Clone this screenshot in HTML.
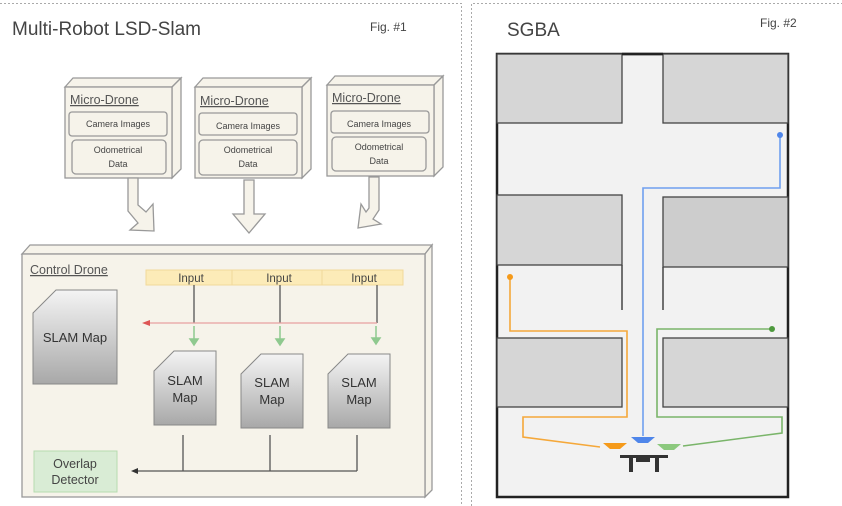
<!DOCTYPE html>
<html><head><meta charset="utf-8"><style>
html,body{margin:0;padding:0;background:#fff;}
svg{display:block;font-family:"Liberation Sans",sans-serif;}
</style></head><body>
<svg width="842" height="506" viewBox="0 0 842 506" xmlns="http://www.w3.org/2000/svg">
<defs>
<linearGradient id="g" x1="0" y1="0" x2="0" y2="1"><stop offset="0" stop-color="#f4f4f4"/><stop offset="1" stop-color="#a8a8a8"/></linearGradient>
</defs>
<!-- panel borders -->
<path d="M0 3.5H461.5V506" fill="none" stroke="#aaa" stroke-dasharray="2,2"/>
<path d="M471.5 506V3.5H842" fill="none" stroke="#aaa" stroke-dasharray="2,2"/>
<text x="12" y="35" font-size="19" fill="#444">Multi-Robot LSD-Slam</text>
<text x="370" y="31" font-size="12" fill="#444">Fig. #1</text>

<!-- drones -->
<g stroke="#999" stroke-width="1.3" fill="#f6f3ea">
<g id="d1">
<path d="M65 87L73 78H181L172 87Z"/><path d="M172 87L181 78V169L172 178Z"/>
<rect x="65" y="87" width="107" height="91"/>
<rect x="69" y="112" width="98" height="24" rx="3"/>
<rect x="72" y="140" width="94" height="34" rx="4"/>
</g>
<g transform="translate(130,0)">
<path d="M65 87L73 78H181L172 87Z"/><path d="M172 87L181 78V169L172 178Z"/>
<rect x="65" y="87" width="107" height="91"/>
<rect x="69" y="113" width="98" height="22" rx="3"/>
<rect x="69" y="140" width="98" height="35" rx="4"/>
</g>
<g transform="translate(262,-2)">
<path d="M65 87L73 78H181L172 87Z"/><path d="M172 87L181 78V169L172 178Z"/>
<rect x="65" y="87" width="107" height="91"/>
<rect x="69" y="113" width="98" height="22" rx="3"/>
<rect x="70" y="139" width="94" height="34" rx="4"/>
</g>
</g>
<g font-size="12.5" fill="#555" text-decoration="underline">
<text x="70" y="104">Micro-Drone</text><text x="200" y="105">Micro-Drone</text><text x="332" y="102">Micro-Drone</text>
</g>
<g font-size="9" fill="#444" text-anchor="middle">
<text x="118" y="127">Camera Images</text><text x="248" y="129">Camera Images</text><text x="379" y="127">Camera Images</text>
<text x="118" y="153">Odometrical</text><text x="118" y="167">Data</text>
<text x="248" y="153">Odometrical</text><text x="248" y="167">Data</text>
<text x="379" y="150">Odometrical</text><text x="379" y="164">Data</text>
</g>
<!-- big arrows -->
<g fill="#f6f3ea" stroke="#999" stroke-width="1.3">
<path d="M128 178H138V205L146 212L153 204L154 231L130 230L138 223L128 211Z"/>
<path d="M244 180H254V214H265L249 233L233 214H244Z"/>
<path d="M369 177H379V210L373 219L381 224L358 228L361 204L366 212L369 208Z"/>
</g>

<!-- control drone -->
<g stroke="#999" stroke-width="1.3" fill="#f6f3ea">
<path d="M22 254L30 245H432L425 254Z"/><path d="M425 254L432 245V490L425 497Z"/>
<rect x="22" y="254" width="403" height="243"/>
</g>
<text x="30" y="274" font-size="12.5" fill="#555" text-decoration="underline">Control Drone</text>
<g fill="#fcebb8" stroke="#f1d89a">
<rect x="146" y="270" width="86" height="15"/><rect x="232" y="270" width="90" height="15"/><rect x="322" y="270" width="81" height="15"/>
</g>
<g font-size="11.5" fill="#444" text-anchor="middle">
<text x="191" y="282">Input</text><text x="279" y="282">Input</text><text x="364" y="282">Input</text>
</g>
<g stroke="#555" stroke-width="1.3">
<line x1="194" y1="285" x2="194" y2="323"/><line x1="280" y1="285" x2="280" y2="323"/><line x1="377" y1="285" x2="377" y2="323"/>
</g>
<line x1="148" y1="323" x2="377" y2="323" stroke="#e8a0a0" stroke-width="1.3"/>
<path d="M142 323L150 320V326Z" fill="#d55"/>
<g stroke="#8fc98f" stroke-width="1.5" fill="#8fc98f">
<line x1="194" y1="326" x2="194" y2="340"/><path d="M190 339H198L194 345Z"/>
<line x1="280" y1="326" x2="280" y2="340"/><path d="M276 339H284L280 345Z"/>
<line x1="376" y1="326" x2="376" y2="339"/><path d="M372 338H380L376 344Z"/>
</g>
<g fill="url(#g)" stroke="#888">
<path d="M33 313L56 290H117V384H33Z"/>
<path d="M154 371L174 351H216V425H154Z"/>
<path d="M241 374L261 354H303V428H241Z"/>
<path d="M328 374L348 354H390V428H328Z"/>
</g>
<g font-size="13" fill="#333" text-anchor="middle">
<text x="75" y="342">SLAM Map</text>
<text x="185" y="385">SLAM</text><text x="185" y="402">Map</text>
<text x="272" y="387">SLAM</text><text x="272" y="404">Map</text>
<text x="359" y="387">SLAM</text><text x="359" y="404">Map</text>
</g>
<g stroke="#555" stroke-width="1.3" fill="none">
<line x1="183" y1="435" x2="183" y2="471"/><line x1="270" y1="435" x2="270" y2="471"/><line x1="357" y1="435" x2="357" y2="471"/>
<line x1="137" y1="471" x2="357" y2="471"/>
</g>
<path d="M131 471L138 468V474Z" fill="#333"/>
<rect x="34" y="451" width="83" height="41" fill="#d9ecd5" stroke="#b6dbb0"/>
<text x="75" y="468" font-size="12.5" fill="#444" text-anchor="middle">Overlap</text>
<text x="75" y="484" font-size="12.5" fill="#444" text-anchor="middle">Detector</text>

<!-- SGBA -->
<text x="507" y="36" font-size="19" fill="#444">SGBA</text>
<text x="760" y="27" font-size="12" fill="#444">Fig. #2</text>
<rect x="497" y="54" width="291" height="443" fill="#f2f2f2" stroke="#222" stroke-width="2.5"/>
<g fill="#d6d6d6" stroke="#444" stroke-width="1.3">
<rect x="497" y="54" width="125" height="69"/><rect x="663" y="54" width="125" height="69"/>
<rect x="497" y="195" width="125" height="70"/><rect x="663" y="197" width="125" height="70" fill="#cdcdcd"/>
<rect x="497" y="338" width="125" height="69"/><rect x="663" y="338" width="125" height="69"/>
</g>
<g stroke="#444" stroke-width="1.5">
<line x1="622" y1="265" x2="622" y2="310"/><line x1="663" y1="267" x2="663" y2="310"/>
<line x1="622" y1="54" x2="663" y2="54" stroke="#222" stroke-width="2.5"/>
</g>
<g fill="none" stroke-width="1.6">
<path d="M780 135V188H643V436" stroke="#6f9ff0"/>
<path d="M510 277V331H627V417H523V437L600 447" stroke="#f5a83a"/>
<path d="M772 329H657V417H782V433L683 446" stroke="#7ab56a"/>
</g>
<circle cx="780" cy="135" r="3" fill="#4f86ea"/>
<circle cx="510" cy="277" r="3" fill="#f59a1a"/>
<circle cx="772" cy="329" r="3" fill="#4e9a3e"/>
<path d="M631 437H655L648 443H638Z" fill="#4f86ea"/>
<path d="M603 443H627L620 449H610Z" fill="#f59a1a"/>
<path d="M657 444H681L674 450H664Z" fill="#8cc97e"/>
<g fill="#333">
<path d="M620 455H668V458H650V462H636V458H620Z"/>
<rect x="629" y="457" width="4" height="15"/><rect x="655" y="457" width="4" height="15"/>
</g>
</svg>
</body></html>
